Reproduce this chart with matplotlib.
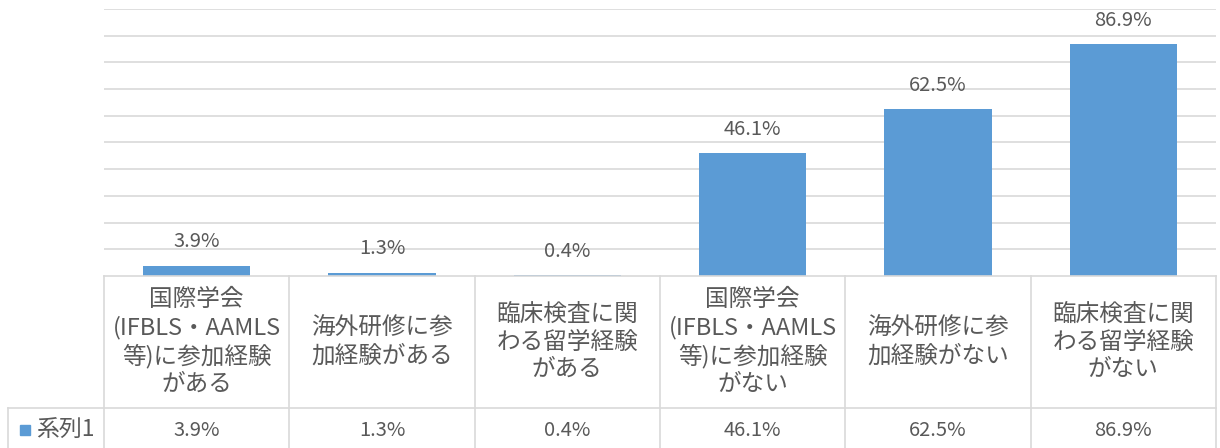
import matplotlib.pyplot as plt
from matplotlib.transforms import blended_transform_factory

plt.rcParams['font.family'] = ['Noto Sans CJK JP', 'DejaVu Sans']

# 回答項目と割合
categories = [
    '国際学会\n(IFBLS・AAMLS\n等)に参加経験\nがある',
    '海外研修に参\n加経験がある',
    '臨床検査に関\nわる留学経験\nがある',
    '国際学会\n(IFBLS・AAMLS\n等)に参加経験\nがない',
    '海外研修に参\n加経験がない',
    '臨床検査に関\nわる留学経験\nがない',
]
values = [0.039, 0.013, 0.004, 0.461, 0.625, 0.869]
series_name = '系列1'

bar_color = '#5B9BD5'
text_color = '#595959'
line_color = '#D9D9D9'

fig = plt.figure(figsize=(12.2, 4.48), dpi=100)
ax = fig.add_axes([104 / 1220, 1 - 276 / 448, 1112 / 1220, 267 / 448])

x = list(range(len(values)))
ax.bar(x, values, width=0.58, color=bar_color, zorder=2)
ax.set_xlim(-0.5, len(values) - 0.5)
ax.set_ylim(0, 1.0)

# 目盛線（10%刻み）
for g in [i / 10 for i in range(1, 11)]:
    ax.axhline(g, color=line_color, lw=1.2, zorder=1)

for s in ax.spines.values():
    s.set_visible(False)
ax.set_xticks([])
ax.set_yticks([])

# データラベル
for xi, v in zip(x, values):
    ax.annotate(f'{v * 100:.1f}%', (xi, v), xytext=(0, 9.5), textcoords='offset points',
                ha='center', va='bottom', fontsize=14.5, color=text_color)

# データテーブル
tr = blended_transform_factory(ax.transData, ax.transAxes)
row1 = -132 / 267
row2 = -180 / 267
left = -0.5 - 96 / 185.3
kw = dict(color=line_color, lw=1.2, transform=tr, clip_on=False)
ax.plot([-0.5, len(values) - 0.5], [0, 0], **kw)
ax.plot([left, len(values) - 0.5], [row1, row1], **kw)
for b in range(len(values) + 1):
    ax.plot([b - 0.5, b - 0.5], [0, row2], **kw)
ax.plot([left, left], [row1, row2], **kw)

for xi, (cat, v) in enumerate(zip(categories, values)):
    ax.text(xi, row1 / 2, cat, transform=tr, ha='center', va='center',
            multialignment='center', fontsize=17, color=text_color, linespacing=1.25)
    ax.text(xi, -154 / 267, f'{v * 100:.1f}%', transform=tr, ha='center', va='center',
            fontsize=14.5, color=text_color)

# 凡例キー
ax.plot([-0.5 - 79 / 185.3], [-154 / 267], marker='s', ms=7.5, color=bar_color,
        transform=tr, clip_on=False, linestyle='none')
ax.text(-0.5 - 68 / 185.3, -154 / 267, series_name, transform=tr, ha='left', va='center',
        fontsize=16.5, color=text_color)

fig.savefig('out.png', dpi=100, facecolor='white')
